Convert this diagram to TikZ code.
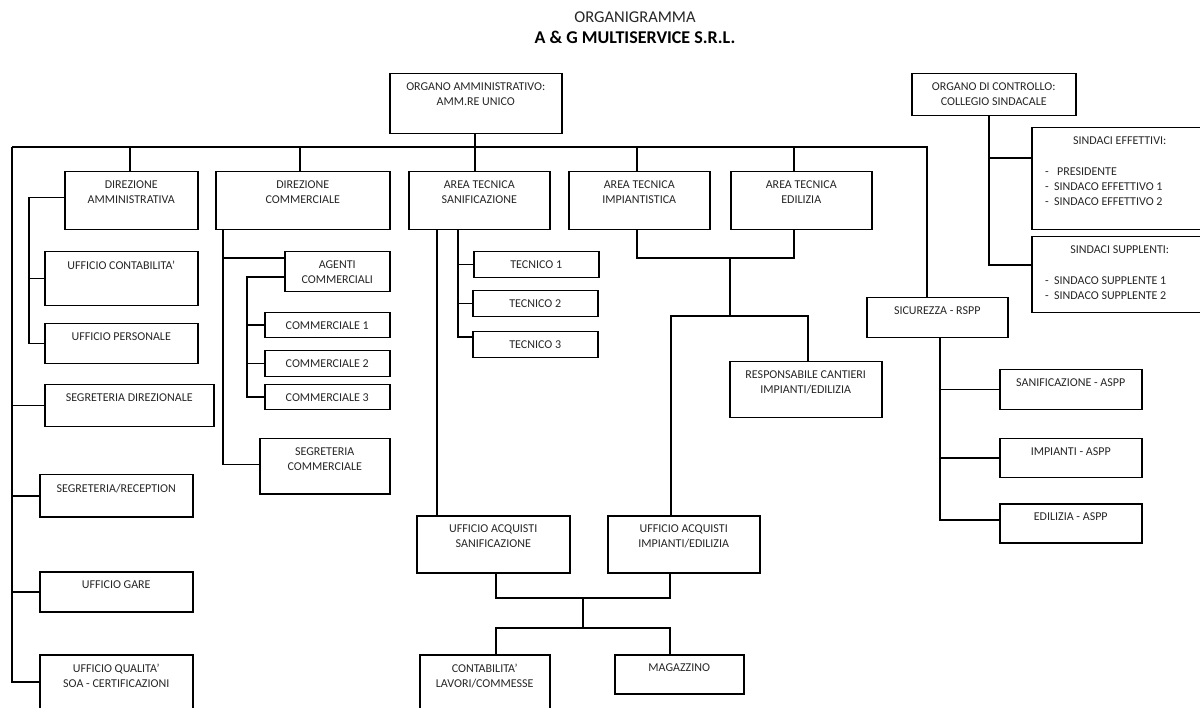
\documentclass[tikz,border=0pt]{standalone}
\usepackage{fontspec}
\setmainfont{Carlito}
\newcommand\bx[6]{%
  \pgfmathsetmacro\bxw{#4-#2}\pgfmathsetmacro\bxh{#5-#3}%
  \node[box, minimum width=\bxw pt, minimum height=\bxh pt, anchor=north west] (#1) at (#2,#3) {};%
  \node[txt, anchor=north] (#1-t) at ([yshift=-10pt]#1.north) {#6};%
}
\begin{document}
\begin{tikzpicture}[x=1pt,y=-1pt,
  box/.style={draw, line width=1.5pt, inner sep=0pt},
  txt/.style={inner sep=0pt, align=center, text=black!85, font=\fontsize{12}{14.8}\selectfont},
  ln/.style={line width=1.5pt}]
\useasboundingbox (0,0) rectangle (1200,708);
\clip (0,0) rectangle (1200,708);

% title
\node[inner sep=0pt, anchor=base, text=black!85, font=\fontsize{16.5}{20}\selectfont] (t1) at (635,23) {ORGANIGRAMMA};
\node[inner sep=0pt, anchor=base, font=\bfseries\fontsize{18}{22}\selectfont] (t2) at (635,44) {A \& G MULTISERVICE S.R.L.};

% boxes
\bx{OA}{389}{73}{561}{133}{ORGANO AMMINISTRATIVO:\\AMM.RE UNICO}
\bx{OC}{911}{73}{1075}{115}{ORGANO DI CONTROLLO:\\COLLEGIO SINDACALE}
\bx{DA}{64}{171}{197}{229}{DIREZIONE\\AMMINISTRATIVA}
\bx{DC}{215}{171}{389}{229}{DIREZIONE\\COMMERCIALE}
\bx{ATS}{408}{171}{549}{229}{AREA TECNICA\\SANIFICAZIONE}
\bx{ATI}{568}{171}{709}{229}{AREA TECNICA\\IMPIANTISTICA}
\bx{ATE}{730}{171}{871}{229}{AREA TECNICA\\EDILIZIA}
\bx{UC}{44}{251}{197}{305}{UFFICIO CONTABILITA’}
\bx{UP}{44}{323}{197}{363}{UFFICIO PERSONALE}
\bx{SD}{44}{384}{213}{426}{SEGRETERIA DIREZIONALE}
\bx{SR}{39}{474}{192}{516}{SEGRETERIA/RECEPTION}
\bx{UG}{39}{571}{192}{611}{UFFICIO GARE}
\bx{UQ}{39}{654}{192}{730}{UFFICIO QUALITA’\\SOA - CERTIFICAZIONI}
\bx{AG}{284}{251}{389}{291}{AGENTI\\COMMERCIALI}
\bx{C1}{264}{312}{389}{337}{COMMERCIALE 1}
\bx{C2}{264}{350}{389}{376}{COMMERCIALE 2}
\bx{C3}{264}{384}{389}{409}{COMMERCIALE 3}
\bx{SC}{259}{438}{389}{493}{SEGRETERIA\\COMMERCIALE}
\bx{T1}{473}{251}{598}{277}{TECNICO 1}
\bx{T2}{472}{290}{597}{316}{TECNICO 2}
\bx{T3}{472}{331}{597}{357}{TECNICO 3}
\bx{RC}{729}{361}{881}{417}{RESPONSABILE CANTIERI\\IMPIANTI/EDILIZIA}
\bx{UAS}{416}{515}{569}{572}{UFFICIO ACQUISTI\\SANIFICAZIONE}
\bx{UAI}{607}{515}{759}{572}{UFFICIO ACQUISTI\\IMPIANTI/EDILIZIA}
\bx{CL}{419}{654}{549}{730}{CONTABILITA’\\LAVORI/COMMESSE}
\bx{MG}{614}{654}{743}{693}{MAGAZZINO}
\bx{SIC}{866}{297}{1007}{337}{SICUREZZA - RSPP}
\bx{SA}{999}{369}{1141}{409}{SANIFICAZIONE - ASPP}
\bx{IA}{999}{438}{1141}{477}{IMPIANTI - ASPP}
\bx{EA}{999}{503}{1141}{542}{EDILIZIA - ASPP}
\bx{SE}{1031}{127}{1207}{229}{SINDACI EFFETTIVI:}
\bx{SS}{1031}{236}{1207}{312}{SINDACI SUPPLENTI:}
\node[txt, align=left, anchor=north west] (SE-l) at ([xshift=14pt,yshift=-41pt]SE.north west)
  {\makebox[12pt][l]{-}PRESIDENTE\\\makebox[9pt][l]{-}SINDACO EFFETTIVO 1\\\makebox[9pt][l]{-}SINDACO EFFETTIVO 2};
\node[txt, align=left, anchor=north west] (SS-l) at ([xshift=14pt,yshift=-41pt]SS.north west)
  {\makebox[9pt][l]{-}SINDACO SUPPLENTE 1\\\makebox[9pt][l]{-}SINDACO SUPPLENTE 2};

% main bus
\coordinate (hl) at (12,147);
\coordinate (hr) at (927,147);
\draw[ln] (hl) -- (hr) -- (hr |- SIC.north);
\draw[ln] ([xshift=-1pt]OA.south) -- ([xshift=-1pt]OA.south |- ATS.north);
\draw[ln] ([xshift=-1.5pt]DA.north) -- ++(0,-24);
\draw[ln] ([xshift=-3pt]DC.north) -- ++(0,-24);
\draw[ln] ([xshift=-2.5pt]ATI.north) -- ++(0,-24);
\draw[ln] ([xshift=-7.5pt]ATE.north) -- ++(0,-24);

% left column
\draw[ln] (hl) |- (UQ.west |- 0,682);
\draw[ln] (hl |- SD.west) -- (SD.west);
\draw[ln] (hl |- SR.west) -- (SR.west);
\draw[ln] (hl |- UG.west) -- (UG.west);
\draw[ln] ([yshift=3pt]DA.west) -- ++(-35,0) |- (UP.west);
\draw[ln] (29,0 |- UC.west) -- (UC.west);

% direzione commerciale
\draw[ln] ([xshift=-80pt]DC.south) |- ([yshift=1.5pt]SC.west);
\draw[ln] ([yshift=-7pt]AG.north west) -- ++(-62,0);
\draw[ln] ([yshift=-26pt]AG.north west) -- ++(-37,0) |- (C3.west);
\draw[ln] (247,0 |- C1.west) -- (C1.west);
\draw[ln] (247,0 |- C2.west) -- (C2.west);

% area tecnica sanificazione
\draw[ln] ([xshift=-42.5pt]ATS.south) -- ([xshift=-42.5pt]ATS.south |- UAS.north);
\draw[ln] ([xshift=-21.5pt]ATS.south) |- ([yshift=-6pt]T3.north west);
\draw[ln] (457,0 |- T1.west) -- (T1.west);
\draw[ln] (457,0 |- T2.west) -- (T2.west);

% impianti / edilizia
\coordinate (j1) at (730,258);
\coordinate (j2) at (730,316);
\draw[ln] ([xshift=-2.5pt]ATI.south) |- (j1) -| ([xshift=-7.5pt]ATE.south);
\draw[ln] (j1) -- (j2);
\draw[ln] ([xshift=-13pt]UAI.north) |- (j2) -| ([xshift=2pt]RC.north);

% acquisti
\coordinate (j3) at (583,598);
\coordinate (j4) at (583,628);
\draw[ln] ([xshift=2.5pt]UAS.south) |- (j3) -| ([xshift=-14pt]UAI.south);
\draw[ln] (j3) -- (j4);
\draw[ln] ([xshift=11pt]CL.north) |- (j4) -| ([xshift=-9.5pt]MG.north);

% sicurezza
\draw[ln] ([xshift=2.5pt]SIC.south) |- ([yshift=-17pt]EA.north west);
\draw[ln] (939,0 |- SA.west) -- (SA.west);
\draw[ln] (939,0 |- IA.west) -- (IA.west);

% organo di controllo
\draw[ln] ([xshift=-5pt]OC.south) |- ([yshift=-29pt]SS.north west);
\draw[ln] ([yshift=-31pt]SE.north west) -- ++(-43,0);
\end{tikzpicture}
\end{document}
